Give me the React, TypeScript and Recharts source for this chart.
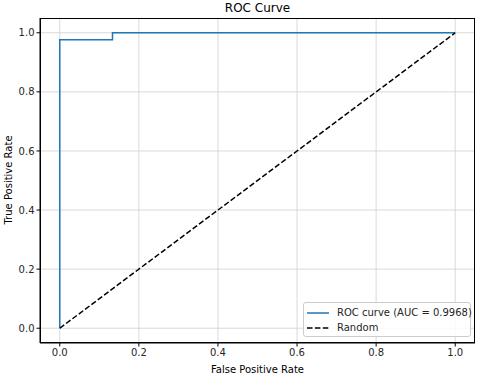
import React from "react";
import {
  LineChart,
  Line,
  XAxis,
  YAxis,
  CartesianGrid,
} from "recharts";

const fprValues = [0, 0, 0.1333, 0.1333, 1];
const tprValues = [0, 0.976, 0.976, 1, 1];
const randomFpr = [0, 1];
const randomTpr = [0, 1];
const tickValues = [0, 0.2, 0.4, 0.6, 0.8, 1.0];

const rocData = fprValues.map((x, i) => ({ x, y: tprValues[i] }));
const randomData = randomFpr.map((x, i) => ({ x, y: randomTpr[i] }));

const FONT = "'DejaVu Sans', sans-serif";
const tickStyle = { fontSize: 10, fill: "#262626", fontFamily: FONT };

const LegendBox = () => (
  <div
    style={{
      position: "absolute",
      left: 303,
      top: 302,
      width: 168,
      height: 35,
      border: "1px solid #cccccc",
      borderRadius: 3,
      background: "rgba(255,255,255,0.85)",
      fontFamily: FONT,
      fontSize: 10,
      color: "#262626",
      boxSizing: "border-box",
      whiteSpace: "nowrap",
    }}
  >
    <div style={{ position: "absolute", left: 3, top: 4, display: "flex", alignItems: "center", lineHeight: "12px" }}>
      <svg width={22} height={8}>
        <line x1={0} y1={4} x2={22} y2={4} stroke="#1f77b4" strokeWidth={1.5} />
      </svg>
      <span style={{ marginLeft: 8 }}>ROC curve (AUC = 0.9968)</span>
    </div>
    <div style={{ position: "absolute", left: 3, top: 19, display: "flex", alignItems: "center", lineHeight: "12px" }}>
      <svg width={22} height={8}>
        <line x1={0} y1={4} x2={22} y2={4} stroke="#000" strokeWidth={1.5} strokeDasharray="5.5 2.4" />
      </svg>
      <span style={{ marginLeft: 8 }}>Random</span>
    </div>
  </div>
);

export default function App() {
  return (
    <div style={{ position: "absolute", left: 0, top: 0, width: 480, height: 374, background: "#fff" }}>
      <div
        style={{
          position: "absolute",
          left: 40,
          width: 435,
          top: 1,
          textAlign: "center",
          fontFamily: FONT,
          fontSize: 12,
          color: "#000",
        }}
      >
        ROC Curve
      </div>
      <div
        style={{
          position: "absolute",
          left: 8,
          top: 180,
          transform: "translate(-50%, -50%) rotate(-90deg)",
          whiteSpace: "nowrap",
          fontFamily: FONT,
          fontSize: 10,
          color: "#000",
        }}
      >
        True Positive Rate
      </div>
      <LineChart
        width={480}
        height={374}
        margin={{ top: 18, right: 5, left: 0, bottom: 0 }}
      >
        <CartesianGrid
          xAxisId="b"
          yAxisId="l"
          stroke="#d0d0d0"
          strokeWidth={0.8}
          horizontalValues={tickValues}
          verticalValues={tickValues}
        />
        <XAxis
          xAxisId="b"
          dataKey="x"
          type="number"
          domain={[-0.05, 1.05]}
          ticks={tickValues}
          tickFormatter={(v: number) => v.toFixed(1)}
          tick={tickStyle}
          stroke="#000"
          tickSize={3.5}
          height={31}
          allowDataOverflow
          label={{ value: "False Positive Rate", position: "insideBottom", offset: 1, style: { fontSize: 10, fill: "#000", fontFamily: FONT } }}
        />
        <YAxis
          yAxisId="l"
          type="number"
          domain={[-0.05, 1.05]}
          ticks={tickValues}
          tickFormatter={(v: number) => v.toFixed(1)}
          tick={tickStyle}
          stroke="#000"
          tickSize={3.5}
          width={40}
          allowDataOverflow
        />
        <Line
          xAxisId="b"
          yAxisId="l"
          data={rocData}
          dataKey="y"
          type="linear"
          stroke="#1f77b4"
          strokeWidth={1.5}
          dot={false}
          isAnimationActive={false}
        />
        <Line
          xAxisId="b"
          yAxisId="l"
          data={randomData}
          dataKey="y"
          type="linear"
          stroke="#000"
          strokeWidth={1.5}
          strokeDasharray="5.5 2.4"
          dot={false}
          isAnimationActive={false}
        />
      </LineChart>
      <div
        style={{
          position: "absolute",
          left: 40,
          top: 18,
          width: 435,
          height: 325,
          border: "1px solid #000",
          boxSizing: "border-box",
          pointerEvents: "none",
        }}
      />
      <LegendBox />
    </div>
  );
}
